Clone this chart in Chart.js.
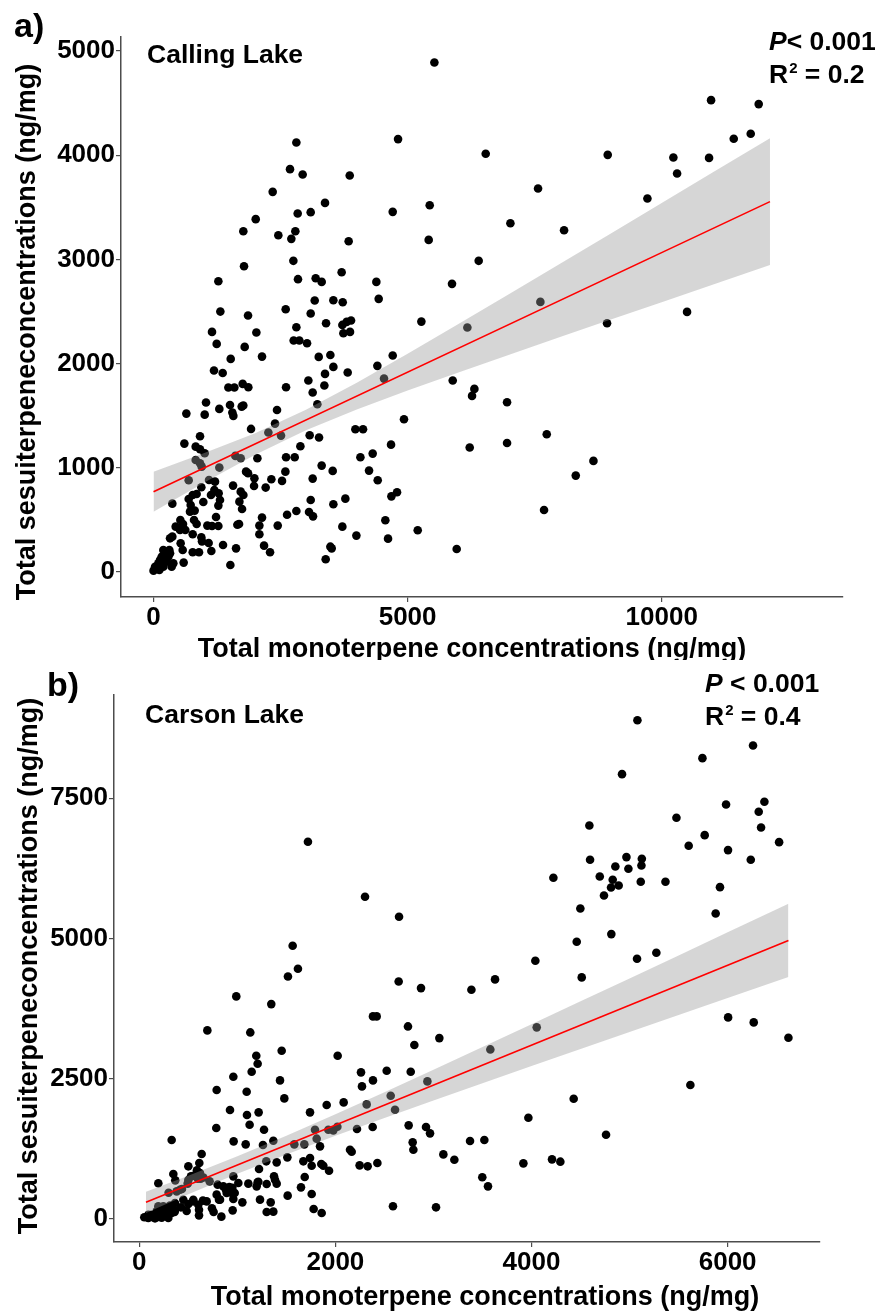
<!DOCTYPE html>
<html>
<head>
<meta charset="utf-8">
<script src="https://cdn.jsdelivr.net/npm/chart.js@4.4.1/dist/chart.umd.min.js"></script>
<style>
  html, body { margin: 0; padding: 0; background: #fff; }
  body { width: 880px; height: 1315px; position: relative; overflow: hidden; }
  .panel { position: absolute; left: 0; width: 880px; }
  #boxA { top: 0; height: 660px; }
  #boxB { top: 660px; height: 655px; }
</style>
</head>
<body>
<div class="panel" id="boxA"><canvas id="chartA" width="880" height="660"></canvas></div>
<div class="panel" id="boxB"><canvas id="chartB" width="880" height="655"></canvas></div>
<script>
// panel a) Calling Lake: [monoterpene, sesquiterpene] in ng/mg
const callingPoints = [
  [0,13],[30,51],[62,35],[95,83],[115,19],[128,115],[161,147],[180,90],[193,51],[193,211],[226,131],[239,179],[259,99],[292,147],
  [311,211],[325,179],[325,323],[357,51],[370,339],[370,656],[390,83],[436,435],[521,403],[528,499],[534,275],[574,211],[580,461],
  [593,90],[607,1232],[626,403],[646,1520],[692,701],[692,880],[718,579],[731,643],[771,189],[771,362],[771,739],[797,499],[810,589],
  [830,1075],[830,1203],[849,461],[849,749],[895,189],[915,1043],[915,1178],[915,1302],[941,333],[941,813],[948,1011],[954,294],
  [980,672],[1007,1139],[1007,1510],[1033,1626],[1059,445],[1085,278],[1092,883],[1131,739],[1138,202],[1151,442],[1151,2304],
  [1190,1933],[1197,787],[1210,867],[1230,528],[1243,2189],[1276,442],[1276,637],[1276,2790],[1282,755],[1295,1002],[1295,1565],
  [1308,691],[1315,2499],[1361,1910],[1368,259],[1473,1770],[1505,1603],[1512,67],[1519,2045],[1551,1530],[1565,829],[1571,1498],
  [1591,1770],[1611,1114],[1624,227],[1650,454],[1683,461],[1690,675],[1716,771],[1716,1091],[1735,1587],[1742,605],[1755,1805],
  [1767,1597],[1767,3270],[1768,739],[1781,2934],[1794,2160],[1821,963],[1860,947],[1860,2461],[1866,1773],[1919,1373],[1978,826],
  [1985,899],[2011,3386],[2024,2298],[2044,1091],[2083,362],[2083,445],[2135,522],[2135,2067],[2175,253],[2207,810],[2260,1338],
  [2293,189],[2319,890],[2345,3648],[2391,1424],[2430,1555],[2444,445],[2456,3232],[2509,1309],[2529,874],[2595,963],[2601,2522],
  [2608,1101],[2608,1773],[2628,550],[2686,3866],[2712,3197],[2752,2986],[2758,2221],[2778,1101],[2791,3270],[2811,586],[2811,2349],
  [2811,4122],[2837,3440],[2843,2810],[2870,2221],[2890,1206],[2935,3814],[3021,2195],[3047,1837],[3060,576],[3073,1312],[3093,691],
  [3093,2480],[3093,3453],[3132,896],[3132,1722],[3139,534],[3172,2605],[3191,2819],[3224,1610],[3251,2064],[3257,1290],[3309,1021],
  [3309,2784],[3362,1789],[3375,1901],[3375,3542],[3388,122],[3395,2387],[3480,243],[3480,2083],[3506,227],[3526,970],[3539,650],
  [3539,1968],[3539,2608],[3702,2877],[3716,435],[3716,2371],[3723,2589],[3736,2291],[3775,704],[3801,2400],[3821,1914],[3840,3174],
  [3861,3805],[3867,2304],[3887,2413],[3972,1370],[3992,349],[4071,1101],[4123,1370],[4241,973],[4313,1136],[4385,2784],[4405,1978],
  [4412,880],[4431,2621],[4536,1856],[4562,496],[4615,320],[4674,1222],[4681,726],[4707,2077],[4707,3456],[4792,765],[4812,4154],
  [4929,1466],[5199,400],[5271,2403],[5415,3187],[5435,3520],[5527,4890],[5874,2765],[5888,1837],[5966,221],[6176,2346],[6222,1194],
  [6268,1690],[6314,1757],[6399,2986],[6537,4013],[6957,1238],[6957,1629],[7023,3347],[7567,3680],[7613,2592],[7685,595],[7738,1322],
  [8079,3280],[8309,925],[8657,1066],[8925,2387],[8938,4003],[9719,3584],[10230,3978],[10303,3824],[10499,2496],[10932,3974],
  [10972,4528],[11418,4157],[11752,4205],[11909,4490]
];
const callingFit = [[0, 770], [12131, 3554]];
const callingBandX = [0, 1000, 2000, 3000, 4000, 5000, 6000, 7000, 8000, 9000, 10000, 11000, 12131];
const callingBandHi = [963, 1141, 1332, 1556, 1816, 2094, 2380, 2668, 2958, 3249, 3541, 3833, 4163];
const callingBandLo = [577, 859, 1126, 1361, 1560, 1741, 1914, 2085, 2254, 2422, 2589, 2757, 2945];
const callingXTicks = [0, 5000, 10000];
const callingYTicks = [0, 1000, 2000, 3000, 4000, 5000];

// panel b) Carson Lake
const carsonPoints = [
  [51,30],[75,36],[92,18],[92,77],[109,47],[126,36],[126,77],[160,12],[177,107],[177,136],[194,36],[194,226],[194,636],[211,77],
  [228,24],[245,137],[245,166],[245,226],[262,59],[279,196],[296,18],[296,107],[299,469],[313,136],[313,166],[313,238],[330,107],
  [330,1408],[347,166],[347,802],[360,125],[364,154],[364,285],[367,689],[381,493],[415,522],[425,208],[435,535],[449,344],[483,143],
  [493,630],[500,267],[500,695],[500,939],[527,760],[551,315],[551,344],[554,772],[588,867],[596,720],[602,255],[609,65],[609,166],
  [612,998],[619,820],[626,719],[636,1158],[649,327],[654,740],[687,314],[694,3362],[717,671],[741,190],[758,125],[785,1622],[789,434],
  [789,2299],[799,612],[813,345],[823,345],[837,42],[857,582],[884,523],[891,463],[918,570],[925,1942],[942,463],[949,558],[952,154],
  [959,356],[959,760],[959,2536],[962,1384],[973,463],[989,3968],[1010,642],[1051,297],[1085,1331],[1095,2269],[1098,1853],[1112,630],
  [1125,1681],[1132,3326],[1146,2625],[1193,2911],[1197,582],[1207,653],[1207,2768],[1214,665],[1217,1901],[1221,891],[1231,345],
  [1261,1319],[1272,1592],[1295,1028],[1299,125],[1299,624],[1340,297],[1346,3831],[1367,131],[1367,1396],[1374,760],[1384,701],
  [1401,630],[1401,1010],[1435,2471],[1452,3000],[1479,2150],[1510,1099],[1513,416],[1516,4324],[1564,4871],[1581,1331],[1618,4461],
  [1649,564],[1673,1028],[1683,1331],[1687,749],[1720,6724],[1741,1087],[1741,1901],[1758,446],[1758,950],[1778,178],[1792,1592],
  [1809,1432],[1843,1295],[1856,980],[1860,107],[1877,950],[1911,2031],[1928,1592],[1935,861],[1979,1580],[2020,1645],[2023,2911],
  [2084,2079],[2149,1235],[2166,1200],[2220,1604],[2247,956],[2261,2614],[2271,2364],[2302,5744],[2319,2043],[2329,939],[2380,1639],
  [2383,2471],[2383,3612],[2421,3612],[2428,998],[2523,2643],[2564,2198],[2587,226],[2608,1948],[2645,4235],[2649,5388],[2740,3433],
  [2747,1669],[2768,2625],[2788,1366],[2795,1235],[2805,3101],[2873,4116],[2924,1639],[2938,2453],[2965,1527],[3026,208],[3060,3225],
  [3101,1152],[3213,1057],[3373,1390],[3387,4087],[3498,743],[3519,1408],[3556,582],[3580,3023],[3628,4271],[3917,992],[3968,1806],
  [4039,4603],[4053,3416],[4209,1063],[4223,6083],[4294,1022],[4430,2144],[4461,4942],[4498,5536],[4512,4307],[4590,7015],[4597,6403],
  [4696,6106],[4739,5768],[4760,1503],[4811,5910],[4814,5079],[4828,6047],[4855,6284],[4889,5946],[4923,7930],[4968,6451],[4988,6243],
  [5076,4639],[5080,8892],[5114,6011],[5121,6302],[5125,6421],[5273,4746],[5366,6011],[5478,7152],[5603,6653],[5620,2388],[5743,8215],
  [5766,6843],[5878,5447],[5922,5916],[5984,7389],[6004,6576],[6005,3594],[6236,6403],[6259,8441],[6266,3505],[6317,7259],[6341,6980],
  [6375,7437],[6525,6718],[6620,3231]
];
const carsonFit = [[68, 297], [6620, 4966]];
const carsonBandX = [68, 500, 1000, 1500, 2000, 2500, 3000, 3500, 4000, 4500, 5000, 5500, 6000, 6620];
const carsonBandHi = [485, 771, 1118, 1484, 1866, 2261, 2661, 3065, 3472, 3881, 4289, 4699, 5110, 5619];
const carsonBandLo = [109, 439, 806, 1152, 1482, 1801, 2113, 2421, 2726, 3031, 3335, 3637, 3940, 4313];
const carsonXTicks = [0, 2000, 4000, 6000];
const carsonYTicks = [0, 2500, 5000, 7500];

const X_TITLE = 'Total monoterpene concentrations (ng/mg)';
const Y_TITLE = 'Total sesuiterpeneconcentrations (ng/mg)';
const FONT = '"Liberation Sans", Arial, Helvetica, sans-serif';
const AXIS_GREY = '#4d4d4d';

function toXY(pairs){ return pairs.map(p => ({x: p[0], y: p[1]})); }
function bandXY(xs, ys){ return xs.map((x, i) => ({x, y: ys[i]})); }

// texts drawn on top: panel tag, site name, stats, axis titles
function textPlugin(t){
  return {
    id: 'panelText',
    afterDraw(chart){
      const c = chart.ctx;
      c.save();
      c.fillStyle = '#000';
      c.textBaseline = 'alphabetic';

      c.font = `bold 34px ${FONT}`;
      c.textAlign = 'left';
      c.fillText(t.tag, t.tagX, t.tagY);

      c.font = `bold 26.5px ${FONT}`;
      c.fillText(t.site, t.siteX, t.siteY);

      // P line
      c.font = `italic bold 26.5px ${FONT}`;
      c.fillText('P', t.statX, t.pY);
      let w = c.measureText('P').width;
      c.font = `bold 26.5px ${FONT}`;
      c.fillText(t.pText, t.statX + w, t.pY);

      // R² line
      c.fillText('R', t.statX, t.rY);
      w = c.measureText('R').width;
      c.font = `bold 15px ${FONT}`;
      c.fillText('2', t.statX + w + 1, t.rY - 10);
      const w2 = c.measureText('2').width;
      c.font = `bold 26.5px ${FONT}`;
      c.fillText(t.rText, t.statX + w + w2 + 1, t.rY);

      // axis titles
      c.font = `bold 27px ${FONT}`;
      c.textAlign = 'center';
      c.fillText(X_TITLE, t.xTitleX, t.xTitleY);
      c.translate(t.yTitleX, t.yTitleY);
      c.rotate(-Math.PI / 2);
      c.fillText(Y_TITLE, 0, 0);
      c.restore();
    }
  };
}

function makeChart(id, d){
  const tickFont = {family: FONT, size: 26, weight: 'bold'};
  return new Chart(document.getElementById(id), {
    type: 'scatter',
    data: {
      datasets: [
        { data: toXY(d.points), pointRadius: 4.3, pointHoverRadius: 4.3, pointBackgroundColor: '#000',
          pointBorderWidth: 0, order: 3 },
        { data: bandXY(d.bandX, d.bandHi), showLine: true, pointRadius: 0, borderWidth: 0,
          backgroundColor: 'rgba(153,153,153,0.4)', fill: '+1', order: 2 },
        { data: bandXY(d.bandX, d.bandLo), showLine: true, pointRadius: 0, borderWidth: 0, fill: false, order: 2 },
        { data: toXY(d.fit), showLine: true, pointRadius: 0, borderColor: '#ff0000', borderWidth: 1.6, fill: false, order: 1 }
      ]
    },
    options: {
      responsive: false,
      animation: false,
      layout: { padding: d.padding },
      plugins: { legend: { display: false }, tooltip: { enabled: false } },
      scales: {
        x: {
          type: 'linear', min: d.xMin, max: d.xMax,
          afterFit: s => { s.height = d.xScaleH; },
          afterBuildTicks: s => { s.ticks = d.xTicks.map(v => ({value: v})); },
          border: { display: true, color: AXIS_GREY, width: 1.5 },
          grid: { drawOnChartArea: false, drawTicks: true, tickLength: 5, color: AXIS_GREY, lineWidth: 1.2 },
          ticks: { font: tickFont, color: '#000', padding: 0, maxRotation: 0, callback: v => String(v) }
        },
        y: {
          type: 'linear', min: d.yMin, max: d.yMax,
          afterFit: s => { s.width = d.yScaleW; },
          afterBuildTicks: s => { s.ticks = d.yTicks.map(v => ({value: v})); },
          border: { display: true, color: AXIS_GREY, width: 1.5 },
          grid: { drawOnChartArea: false, drawTicks: true, tickLength: 5, color: AXIS_GREY, lineWidth: 1.2 },
          ticks: { font: tickFont, color: '#000', padding: 1, callback: v => String(v) }
        }
      }
    },
    plugins: [textPlugin(d.text)]
  });
}

makeChart('chartA', {
  points: callingPoints, fit: callingFit,
  bandX: callingBandX, bandHi: callingBandHi, bandLo: callingBandLo,
  xTicks: callingXTicks, yTicks: callingYTicks,
  xMin: -640, xMax: 13568, yMin: -240, yMax: 5134,
  padding: { top: 37, right: 37, left: 0, bottom: 0 }, xScaleH: 63, yScaleW: 121,
  text: { tag: 'a)', tagX: 14, tagY: 37, site: 'Calling Lake', siteX: 147, siteY: 63,
          statX: 769, pY: 50, pText: '< 0.001', rY: 83, rText: ' = 0.2',
          xTitleX: 472, xTitleY: 657, yTitleX: 35, yTitleY: 332 }
});

makeChart('chartB', {
  points: carsonPoints, fit: carsonFit,
  bandX: carsonBandX, bandHi: carsonBandHi, bandLo: carsonBandLo,
  xTicks: carsonXTicks, yTicks: carsonYTicks,
  xMin: -258, xMax: 6942, yMin: -410, yMax: 9341,
  padding: { top: 35, right: 60, left: 0, bottom: 0 }, xScaleH: 73, yScaleW: 114,
  text: { tag: 'b)', tagX: 47, tagY: 36, site: 'Carson Lake', siteX: 145, siteY: 63,
          statX: 705, pY: 32, pText: ' < 0.001', rY: 65, rText: ' = 0.4',
          xTitleX: 485, xTitleY: 645, yTitleX: 37, yTitleY: 306 }
});
</script>
</body>
</html>
